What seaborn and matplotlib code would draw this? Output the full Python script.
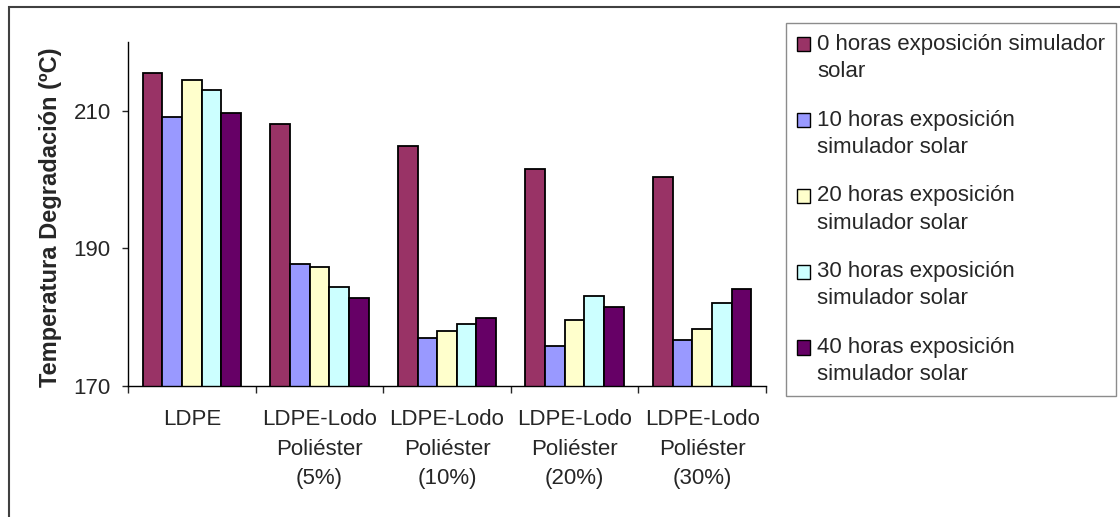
import pandas as pd
import matplotlib
matplotlib.use('Agg')
import matplotlib.pyplot as plt
import seaborn as sns
from matplotlib.patches import Patch, Rectangle
from matplotlib.legend_handler import HandlerPatch

# ---- data ----
materiales = ['LDPE', 'LDPE-Lodo\nPoliéster\n(5%)', 'LDPE-Lodo\nPoliéster\n(10%)',
              'LDPE-Lodo\nPoliéster\n(20%)', 'LDPE-Lodo\nPoliéster\n(30%)']
series = ['0 horas exposición simulador\nsolar',
          '10 horas exposición\nsimulador solar',
          '20 horas exposición\nsimulador solar',
          '30 horas exposición\nsimulador solar',
          '40 horas exposición\nsimulador solar']
h0 = [215.5, 208.0, 204.9, 201.5, 200.4]
h10 = [209.1, 187.7, 176.9, 175.8, 176.6]
h20 = [214.4, 187.2, 178.0, 179.6, 178.3]
h30 = [213.0, 184.3, 179.0, 183.0, 182.1]
h40 = [209.6, 182.7, 179.8, 181.4, 184.0]
colores = ['#993366', '#9999FF', '#FFFFCC', '#CCFFFF', '#660066']
yticks = [170, 190, 210]

valores = [h0, h10, h20, h30, h40]
rows = []
for s, vals in zip(series, valores):
    for m, v in zip(materiales, vals):
        rows.append({'Material': m, 'Serie': s, 'Temp': v})
df = pd.DataFrame(rows)

sns.set_style('white')
plt.rcParams['font.family'] = ['Liberation Sans', 'DejaVu Sans']
plt.rcParams['font.size'] = 16

fig = plt.figure(figsize=(11.2, 5.17), dpi=100)
ax = fig.add_axes([128 / 1120, 1 - 385.7 / 517, 638 / 1120, 343.7 / 517])

sns.barplot(data=df, x='Material', y='Temp', hue='Serie', palette=colores,
            saturation=1, width=0.77, edgecolor='black', linewidth=1.3,
            legend=False, ax=ax)

ax.set_ylim(170, 220)
ax.set_xlim(-0.5, 4.5)
ax.set_yticks(yticks)
ax.set_xlabel('')
ax.set_ylabel('Temperatura Degradación (ºC)', fontsize=17, fontweight='bold')
ax.yaxis.set_label_coords(-0.103, 0.49)

for side in ['top', 'right']:
    ax.spines[side].set_visible(False)
for side in ['left', 'bottom']:
    ax.spines[side].set_color('black')
    ax.spines[side].set_linewidth(1.0)

ax.tick_params(axis='y', direction='out', length=4.5, width=1, pad=8, labelsize=16, left=True)
ax.tick_params(axis='x', which='major', length=0, pad=17, labelsize=16)
ax.set_xticks([i - 0.5 for i in range(len(materiales) + 1)], minor=True)
ax.tick_params(axis='x', which='minor', direction='out', length=5, width=1, bottom=True)
for t in ax.get_xticklabels():
    t.set_linespacing(1.52)

# legend: square next to the first line of each entry
def square_top(legend, orig_handle, xdescent, ydescent, width, height, fontsize):
    return Rectangle((-xdescent, -ydescent + 0.62 * fontsize), width, height)

handles = [Patch(facecolor=c, edgecolor='black', linewidth=1.0) for c in colores]
leg = fig.legend(handles, series, loc='upper left',
                 bbox_to_anchor=(786 / 1120, 1 - 22.7 / 517), borderaxespad=0,
                 fontsize=16, frameon=True, fancybox=False, edgecolor='#707070',
                 handlelength=0.6, handleheight=0.6, handletextpad=0.3,
                 borderpad=0.5, labelspacing=1.24,
                 handler_map={Patch: HandlerPatch(patch_func=square_top)})
leg.get_frame().set_linewidth(1.0)
for t in leg.get_texts():
    t.set_linespacing(1.39)

# outer chart frame
fig.add_artist(Rectangle((8.5 / 1120, -0.2), 1.2, 1.2 - 7 / 517,
                         transform=fig.transFigure, fill=False,
                         edgecolor='#404040', linewidth=1.5))

fig.savefig('out.png', dpi=100)
